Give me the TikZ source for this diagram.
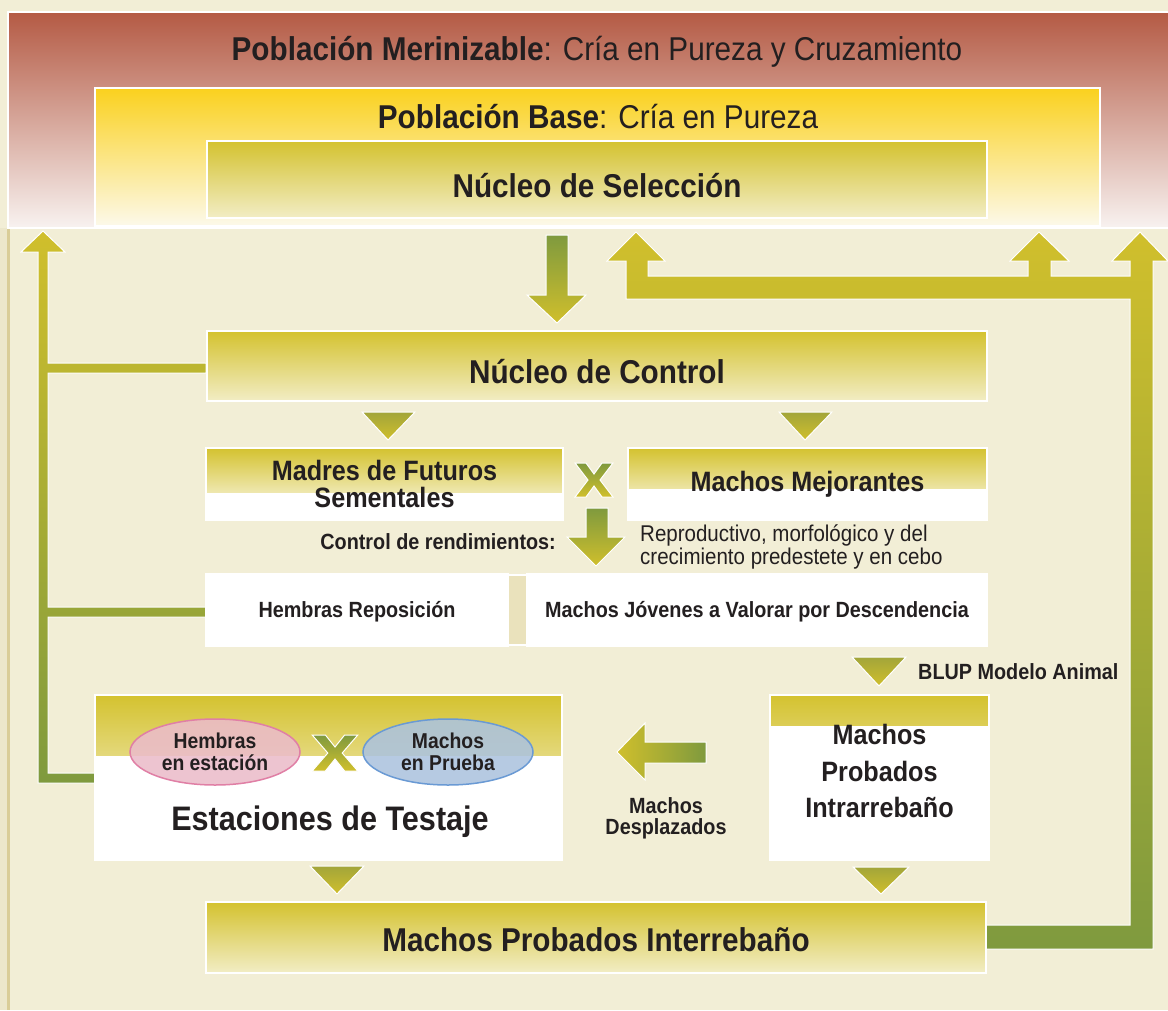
\documentclass[tikz,border=0pt]{standalone}
\usepackage{fontspec}
\setmainfont{Liberation Sans}[FakeStretch=0.9]
\usepackage{tikz}
\usetikzlibrary{shapes.geometric, calc}
\definecolor{paper}{RGB}{242, 238, 214}
\definecolor{margin}{RGB}{236, 231, 203}
\definecolor{rule}{RGB}{217, 205, 152}
\definecolor{brick}{RGB}{180, 90, 68}
\definecolor{blush}{RGB}{248, 242, 240}
\definecolor{gold}{RGB}{250, 209, 30}
\definecolor{cream}{RGB}{252, 249, 234}
\definecolor{olive}{RGB}{212, 194, 47}
\definecolor{paleolive}{RGB}{242, 237, 197}
\definecolor{leaf}{RGB}{127, 154, 62}
\definecolor{mustard}{RGB}{208, 191, 44}
\definecolor{moss}{RGB}{162, 165, 58}
\definecolor{strip}{RGB}{234, 226, 188}
\definecolor{ink}{RGB}{35, 31, 32}
\definecolor{rosefill}{RGB}{235, 188, 202}
\definecolor{roseline}{RGB}{224, 127, 165}
\definecolor{skyfill}{RGB}{172, 195, 222}
\definecolor{skyline}{RGB}{106, 154, 212}

\begin{document}
\begin{tikzpicture}[x=1pt, y=-1pt,
  box/.style={draw=white, line width=1.5, inner sep=0, text=ink, align=center},
  fullbox/.style={box, top color=olive, bottom color=paleolive},
  halfbox/.style={box, fill=white, path picture={
      \shade[top color=olive, bottom color=white]
        (path picture bounding box.north west) rectangle ([yshift=-#1]path picture bounding box.north east);}},
  bigfont/.style={font=\bfseries\fontsize{33}{36}\selectfont},
  midfont/.style={font=\bfseries\fontsize{28}{27}\selectfont},
  smallfont/.style={text=ink, inner sep=0, align=center, font=\bfseries\fontsize{22}{21}\selectfont},
  plainfont/.style={text=ink, inner sep=0, font=\fontsize{22.8}{21}\selectfont},
  titlefont/.style={text=ink, inner sep=0, font=\fontsize{33}{36}\selectfont},
  oval/.style={ellipse, minimum width=170pt, minimum height=66pt, line width=1.5, inner sep=0,
    align=center, text=ink, fill opacity=0.88, text opacity=1, font=\bfseries\fontsize{21.5}{21.5}\selectfont},
  tri/.style={top color=moss, bottom color=mustard, draw=white, line width=1},
  blockup/.style={top color=mustard, bottom color=leaf, draw=white, line width=1},
  blockdown/.style={top color=leaf, bottom color=mustard, draw=white, line width=1}]

  % page
  \fill[paper] (0, 0) rectangle (1168, 1010);
  \useasboundingbox (0, 0) rectangle (1168, 1010);
  \fill[margin] (0, 228) rectangle (7.5, 1010);
  \draw[rule, line width=2.5] (8.5, 228) -- (8.5, 1010);

  % nested populations
  \node[box, top color=brick, bottom color=blush, minimum width=1162pt, minimum height=216pt] (merin) at (589, 120) {};
  \node[titlefont] (merintitle) at (597, 52) {\textbf{Población Merinizable}: Cría en Pureza y Cruzamiento};
  \node[box, top color=gold, bottom color=cream, minimum width=1005pt, minimum height=138pt] (base) at (597.5, 157) {};
  \node[titlefont] (basetitle) at (598, 117) {\textbf{Población Base}: Cría en Pureza};
  \node[fullbox, bigfont, text height=36pt, text depth=0pt, minimum width=780pt, minimum height=77pt] (selec) at (597, 179.5) {Núcleo de Selección};

  % feedback arrows
  \shade[blockup] (43, 231) -- (65, 252) -- (48, 252) -- (48, 363) -- (206, 363) -- (206, 373) -- (48, 373)
    -- (48, 607) -- (206, 607) -- (206, 617) -- (48, 617) -- (48, 773) -- (95, 773) -- (95, 783)
    -- (38, 783) -- (38, 252) -- (21, 252) -- cycle;
  \shade[blockup] (986, 949) -- (1153, 949) -- (1153, 261) -- (1168, 261) -- (1140, 232) -- (1112, 261)
    -- (1130, 261) -- (1130, 276) -- (1051, 276) -- (1051, 261) -- (1069, 261) -- (1039, 232)
    -- (1010, 261) -- (1028, 261) -- (1028, 276) -- (648, 276) -- (648, 261) -- (665, 261)
    -- (636, 232) -- (607, 261) -- (626, 261) -- (626, 299) -- (1130, 299) -- (1130, 925)
    -- (986, 925) -- cycle;
  \shade[blockdown] (546, 235) -- (568, 235) -- (568, 295) -- (586, 295) -- (557, 323) -- (527, 295)
    -- (546, 295) -- cycle;

  % control nucleus
  \node[fullbox, bigfont, text height=34pt, text depth=0pt, minimum width=780pt, minimum height=70pt] (control) at (597, 366) {Núcleo de Control};
  \shade[tri] (362, 412) -- (415, 412) -- (388, 440) -- cycle;
  \shade[tri] (779, 412) -- (832, 412) -- (805, 440) -- cycle;

  \node[halfbox=44pt, midfont, minimum width=357pt, minimum height=72pt] (madres) at (384.5, 484) {Madres de Futuros\\Sementales};
  \node[halfbox=40pt, midfont, minimum width=359pt, minimum height=72pt] (mejor) at (807.5, 484) {Machos Mejorantes};
  \begin{scope}[shift={(594, 480)}]
    \shade[blockdown] (-19, -17) -- (-8, -17) -- (0, -6) -- (8, -17) -- (19, -17) -- (6, 0) -- (19, 17)
      -- (8, 17) -- (0, 6) -- (-8, 17) -- (-19, 17) -- (-6, 0) -- cycle;
  \end{scope}
  \shade[blockdown] (586, 508) -- (608, 508) -- (608, 537) -- (625, 537) -- (596, 566) -- (567, 537)
    -- (586, 537) -- cycle;
  \node[smallfont, anchor=east] (rend) at (556, 542) {Control de rendimientos:};
  \node[plainfont, anchor=west, align=left] (rendtxt) at (640, 547) {Reproductivo, morfológico y del\\crecimiento predestete y en cebo};

  \node[box, fill=white, smallfont, text height=19pt, minimum width=302pt, minimum height=72pt] (hembrasrep) at (357, 610) {Hembras Reposición};
  \node[box, fill=white, smallfont, text height=19pt, minimum width=460pt, minimum height=72pt] (jovenes) at (757, 610) {Machos Jóvenes a Valorar por Descendencia};
  \node[box, fill=strip, minimum width=19pt, minimum height=70pt] (sep) at (517.5, 610) {};

  \shade[tri] (852, 657) -- (906, 657) -- (879, 686) -- cycle;
  \node[smallfont, anchor=west] (blup) at (918, 672) {BLUP Modelo Animal};

  % testing stations
  \node[halfbox=60pt, minimum width=467pt, minimum height=165pt] (testaje) at (328.5, 777.5) {};
  \node[oval, fill=rosefill, draw=roseline] (hembrasest) at (215, 752) {Hembras\\en estación};
  \node[oval, fill=skyfill, draw=skyline] (machosprueba) at (448, 752) {Machos\\en Prueba};
  \begin{scope}[shift={(335, 753)}, xscale=1.2]
    \shade[blockdown] (-19, -18) -- (-8, -18) -- (0, -6) -- (8, -18) -- (19, -18) -- (6, 0) -- (19, 18)
      -- (8, 18) -- (0, 6) -- (-8, 18) -- (-19, 18) -- (-6, 0) -- cycle;
  \end{scope}
  \node[text=ink, inner sep=0, font=\bfseries\fontsize{34}{36}\selectfont] (testajetitle) at (330, 822) {Estaciones de Testaje};

  \node[halfbox=30pt, font=\bfseries\fontsize{28}{36.5}\selectfont, text depth=13pt, minimum width=219pt, minimum height=165pt] (intra) at (879.5, 777.5) {Machos\\Probados\\Intrarrebaño};
  \shade[left color=mustard, right color=leaf, draw=white, line width=1] (617, 752) -- (645, 723) -- (645, 742)
    -- (706, 742) -- (706, 763) -- (645, 763) -- (645, 780) -- cycle;
  \node[smallfont] (desplaz) at (666, 818) {Machos\\Desplazados};

  \shade[tri] (310, 866) -- (364, 866) -- (337, 894) -- cycle;
  \shade[tri] (853, 867) -- (909, 867) -- (881, 894) -- cycle;

  \node[fullbox, bigfont, text height=28pt, text depth=0pt, minimum width=780pt, minimum height=71pt] (inter) at (596, 937.5) {Machos Probados Interrebaño};
\end{tikzpicture}
\end{document}
